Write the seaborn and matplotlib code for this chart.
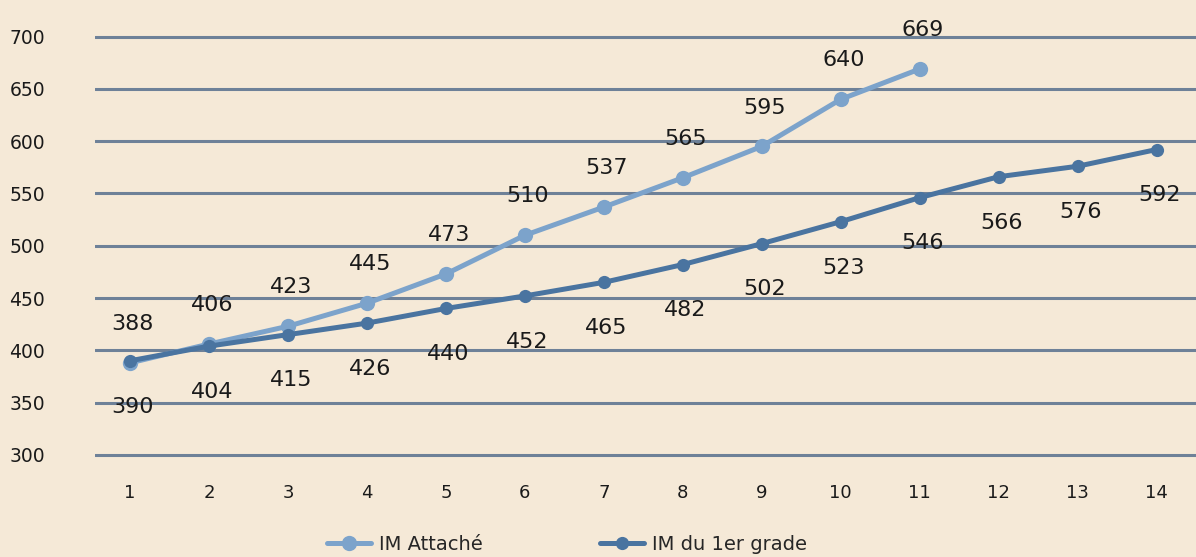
import seaborn as sns
import pandas as pd
import matplotlib.pyplot as plt

# data
echelons_attache = list(range(1, 12))
im_attache = [388, 406, 423, 445, 473, 510, 537, 565, 595, 640, 669]
echelons_grade = list(range(1, 15))
im_grade = [390, 404, 415, 426, 440, 452, 465, 482, 502, 523, 546, 566, 576, 592]
y_ticks = [300, 350, 400, 450, 500, 550, 600, 650, 700]

df_att = pd.DataFrame({"echelon": echelons_attache, "im": im_attache, "serie": "IM Attaché"})
df_gr = pd.DataFrame({"echelon": echelons_grade, "im": im_grade, "serie": "IM du 1er grade"})

bg = "#f5e9d7"
light = "#7ca3cb"
dark = "#4a74a0"

sns.set_style("white")
plt.rcParams["font.family"] = ["DejaVu Sans"]

fig = plt.figure(figsize=(11.96, 5.57), dpi=100, facecolor=bg)
ax = fig.add_axes([0.0795, 0.1777, 0.9205, 0.8223])
ax.set_facecolor(bg)

sns.lineplot(data=df_att, x="echelon", y="im", hue="serie", palette=[light],
             marker="o", markersize=11, linewidth=3.6, markeredgewidth=0, ax=ax)
sns.lineplot(data=df_gr, x="echelon", y="im", hue="serie", palette=[dark],
             marker="o", markersize=9.5, linewidth=3.6, markeredgewidth=0, ax=ax)

# value labels
for x, y in zip(echelons_attache, im_attache):
    ax.annotate(str(y), (x, y), xytext=(2, 28), textcoords="offset points",
                ha="center", va="center", fontsize=16, color="#1a1a1a")
for x, y in zip(echelons_grade, im_grade):
    ax.annotate(str(y), (x, y), xytext=(2, -33), textcoords="offset points",
                ha="center", va="center", fontsize=16, color="#1a1a1a")

ax.set_xlim(0.557, 14.5)
ax.set_ylim(297, 735)
ax.set_yticks(y_ticks)
ax.set_xticks(echelons_grade)
ax.yaxis.grid(True, color="#6e8198", linewidth=2.2)
ax.set_axisbelow(True)
for s in ax.spines.values():
    s.set_visible(False)
ax.tick_params(axis="y", length=0, pad=36, labelsize=13.5, labelcolor="#1a1a1a")
ax.tick_params(axis="x", length=0, pad=19, labelsize=13, labelcolor="#1a1a1a")
ax.set_xlabel("")
ax.set_ylabel("")

ax.get_legend().remove()
handles, labels = [], []
for line in ax.get_lines():
    lab = line.get_label()
    if lab in ("IM Attaché", "IM du 1er grade") and lab not in labels:
        handles.append(line)
        labels.append(lab)
fig.legend(handles, labels, loc="center", bbox_to_anchor=(0.474, 0.022), ncol=2,
           frameon=False, fontsize=14, handlelength=2.3, columnspacing=6.0,
           handletextpad=0.4)

fig.savefig("out.png", dpi=100, facecolor=bg)
